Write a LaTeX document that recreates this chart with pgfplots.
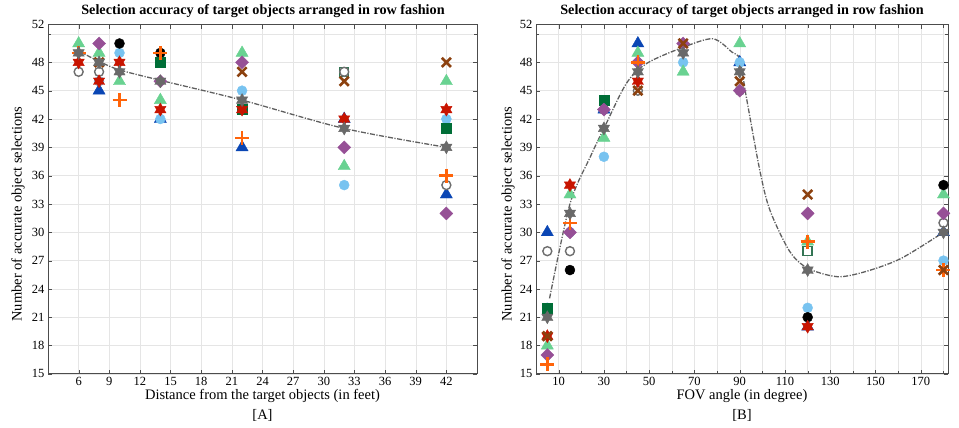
\documentclass[border=0pt]{standalone}
\usepackage{fontspec}
\setmainfont{Liberation Serif}
\usepackage{pgfplots}
\pgfplotsset{compat=1.18}

\definecolor{cBlack}{RGB}{0,0,0}
\definecolor{cSky}{RGB}{120,195,240}
\definecolor{cOpen}{RGB}{110,110,110}
\definecolor{cRed}{RGB}{200,20,0}
\definecolor{cGrayStar}{RGB}{105,105,105}
\definecolor{cBlue}{RGB}{10,70,180}
\definecolor{cMint}{RGB}{105,210,145}
\definecolor{cPurple}{RGB}{150,80,150}
\definecolor{cBrown}{RGB}{140,65,15}
\definecolor{cOrange}{RGB}{255,100,10}
\definecolor{cDkGreen}{RGB}{0,110,55}
\definecolor{cTrend}{RGB}{95,95,95}

% six-pointed filled star
\pgfdeclareplotmark{hexstar}{%
  \pgfpathmoveto{\pgfpointpolar{90}{\pgfplotmarksize}}%
  \pgfpathlineto{\pgfpointpolar{120}{0.577\pgfplotmarksize}}%
  \pgfpathlineto{\pgfpointpolar{150}{\pgfplotmarksize}}%
  \pgfpathlineto{\pgfpointpolar{180}{0.577\pgfplotmarksize}}%
  \pgfpathlineto{\pgfpointpolar{210}{\pgfplotmarksize}}%
  \pgfpathlineto{\pgfpointpolar{240}{0.577\pgfplotmarksize}}%
  \pgfpathlineto{\pgfpointpolar{270}{\pgfplotmarksize}}%
  \pgfpathlineto{\pgfpointpolar{300}{0.577\pgfplotmarksize}}%
  \pgfpathlineto{\pgfpointpolar{330}{\pgfplotmarksize}}%
  \pgfpathlineto{\pgfpointpolar{0}{0.577\pgfplotmarksize}}%
  \pgfpathlineto{\pgfpointpolar{30}{\pgfplotmarksize}}%
  \pgfpathlineto{\pgfpointpolar{60}{0.577\pgfplotmarksize}}%
  \pgfpathclose
  \pgfusepathqfillstroke}

\pgfplotsset{
  panel/.style={
    scale only axis, height=349.3pt,
    ymin=15, ymax=52,
    ytick={15,18,...,48,52}, minor ytick={51},
    grid=both,
    major grid style={draw=black!10},
    minor grid style={draw=black!10},
    tick align=inside,
    major tick length=4pt, minor tick length=3pt,
    axis line style={draw=black!70, line width=0.8pt},
    tick style={draw=black!70},
    tick label style={font=\fontsize{12.5}{13}\selectfont},
    /pgf/number format/assume math mode=true,
    clip=false,
  },
  sBlack/.style={only marks, mark=*, mark size=5pt, draw=cBlack, fill=cBlack},
  sSky/.style={only marks, mark=*, mark size=5pt, draw=cSky, fill=cSky},
  sOpen/.style={only marks, mark=*, mark size=4.5pt, mark options={draw=cOpen, fill=white, line width=1.4pt}},
  sRed/.style={only marks, mark=hexstar, mark size=6.5pt, draw=cRed, fill=cRed},
  sGray/.style={only marks, mark=hexstar, mark size=6.5pt, draw=cGrayStar, fill=cGrayStar},
  sBlue/.style={only marks, mark=triangle*, mark size=7pt, draw=cBlue, fill=cBlue},
  sMint/.style={only marks, mark=triangle*, mark size=7pt, draw=cMint, fill=cMint},
  sPurple/.style={only marks, mark=square*, mark size=4.6pt, mark options={rotate=45, draw=cPurple, fill=cPurple}},
  sBrown/.style={only marks, mark=x, mark size=6.5pt, mark options={draw=cBrown, line width=2.6pt}},
  sOrange/.style={only marks, mark=+, mark size=7pt, mark options={draw=cOrange, line width=2.6pt}},
  sDkGreen/.style={only marks, mark=square*, mark size=5pt, draw=cDkGreen, fill=cDkGreen},
  sOpenSq/.style={only marks, mark=square*, mark size=4.5pt, mark options={draw=cDkGreen!60!gray, fill=white, line width=1.4pt}},
  sTrend/.style={no marks, smooth, draw=cTrend, line width=1.3pt, dash pattern=on 5pt off 1.5pt on 1.2pt off 1.5pt},
}

\begin{document}
\begin{tikzpicture}
\useasboundingbox (0,0) rectangle (959pt,428pt);

% ---------------- [A] distance ----------------
\begin{axis}[panel,
  at={(48pt,54.1pt)}, anchor=south west, width=429pt,
  xmin=3, xmax=45, xtick={6,9,...,42},
]
\addplot[sTrend] coordinates {(6,49.2)(8,48.1)(10,47.2)(14,46.1)(22,44)(32,41)(42,39)};
\addplot[sBlue] coordinates {(8,45)(14,42)(22,39)(32,42)(42,34)};
\addplot[sSky] coordinates {(8,46)(10,49)(14,42)(22,45)(32,35)(42,42)};
\addplot[sMint] coordinates {(6,50)(8,49)(10,46)(14,44)(22,49)(32,37)(42,46)};
\addplot[sBlack] coordinates {(10,50)(14,49)};
\addplot[sDkGreen] coordinates {(14,48)(22,43)(42,41)};
\addplot[sOpenSq] coordinates {(32,47)};
\addplot[sOpen] coordinates {(6,47)(8,47)(32,47)(42,35)};
\addplot[sPurple] coordinates {(8,50)(14,46)(22,48)(32,39)(42,32)};
\addplot[sOrange] coordinates {(6,49)(10,44)(14,49)(22,40)(42,36)};
\addplot[sRed] coordinates {(6,48)(8,46)(10,48)(14,43)(22,43)(32,42)(42,43)};
\addplot[sBrown] coordinates {(8,48)(22,47)(32,46)(42,48)};
\addplot[sGray] coordinates {(6,49)(8,48)(10,47)(14,46)(22,44)(32,41)(42,39)};
\end{axis}

% ---------------- [B] FOV ----------------
\begin{axis}[panel,
  at={(536pt,54.1pt)}, anchor=south west, width=412pt,
  xmin=0, xmax=182, xtick={10,30,...,170}, minor xtick={0,20,...,180},
]
\addplot[sTrend] coordinates {(6,23)(15,33)(24,38)(30,41)(40,45.8)(49,47.9)(64,49.5)(78,50.5)(86.5,49.1)(90,48.3)(93,44.2)(99,36.4)(103.4,32.3)(112,28)(120,26.2)(133,25.3)(145,25.8)(161,27.2)(180,30)};
\addplot[sBlue] coordinates {(5,30)(30,43)(45,50)(90,48)(120,20)(180,30)};
\addplot[sSky] coordinates {(5,22)(15,30)(30,38)(65,48)(90,48)(120,22)(180,27)};
\addplot[sMint] coordinates {(5,18)(15,34)(30,40)(45,49)(65,47)(90,50)(120,29)(180,34)};
\addplot[sBlack] coordinates {(15,26)(120,21)(180,35)};
\addplot[sDkGreen] coordinates {(5,22)(30,44)};
\addplot[sOpenSq] coordinates {(120,28)};
\addplot[sOpen] coordinates {(5,28)(15,28)(30,43)(45,45)(90,45)(180,31)};
\addplot[sPurple] coordinates {(5,17)(15,30)(30,43)(45,48)(65,50)(90,45)(120,32)(180,32)};
\addplot[sOrange] coordinates {(5,16)(15,31)(45,48)(120,29)(180,26)};
\addplot[sRed] coordinates {(5,19)(15,35)(45,46)(120,20)};
\addplot[sBrown] coordinates {(5,19)(45,45)(65,50)(90,46)(120,34)(180,26)};
\addplot[sGray] coordinates {(5,21)(15,32)(30,41)(45,47)(65,49)(90,47)(120,26)(180,30)};
\end{axis}

% titles and labels
\node[font=\bfseries\fontsize{14.2}{15}\selectfont] at (263pt,417pt) {Selection accuracy of target objects arranged in row fashion};
\node[font=\bfseries\fontsize{14.2}{15}\selectfont] at (742pt,417pt) {Selection accuracy of target objects arranged in row fashion};
\node[font=\fontsize{14.5}{15}\selectfont] at (262.5pt,32pt) {Distance from the target objects (in feet)};
\node[font=\fontsize{14.5}{15}\selectfont] at (262.5pt,13pt) {[A]};
\node[font=\fontsize{14.5}{15}\selectfont] at (742pt,32pt) {FOV angle (in degree)};
\node[font=\fontsize{14.5}{15}\selectfont] at (742pt,13pt) {[B]};
\node[font=\fontsize{14.5}{15}\selectfont, rotate=90] at (18pt,214pt) {Number of accurate object selections};
\node[font=\fontsize{14.5}{15}\selectfont, rotate=90] at (508pt,214pt) {Number of accurate object selections};
\end{tikzpicture}
\end{document}
